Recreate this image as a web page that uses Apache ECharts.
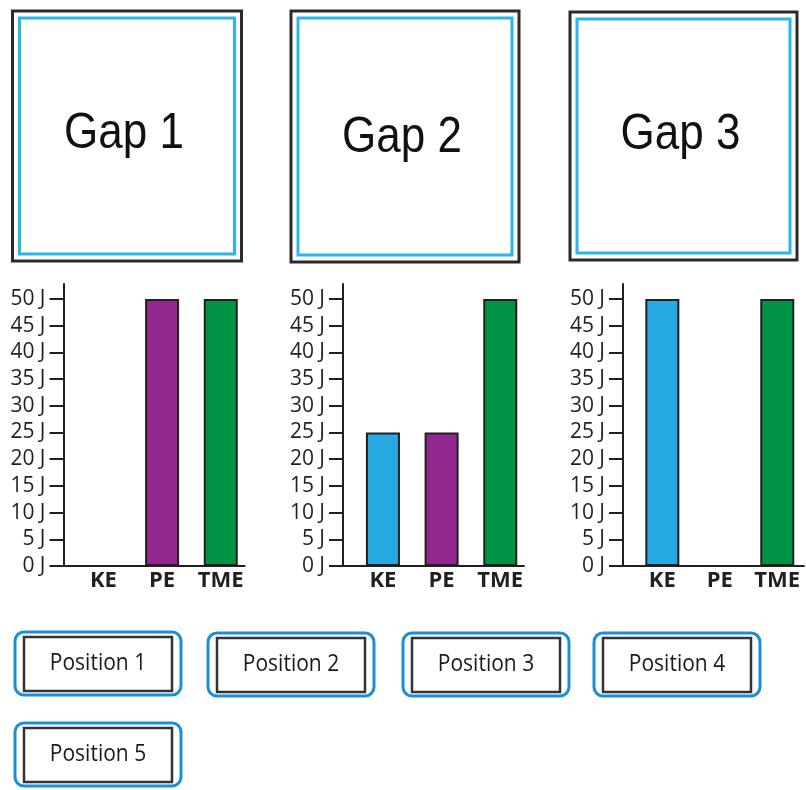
<!DOCTYPE html>
<html>
<head>
<meta charset="utf-8">
<script src="https://cdn.jsdelivr.net/npm/echarts@6/dist/echarts.min.js"></script>
<style>
    html, body { margin: 0; padding: 0; background: #fff; }
    #main { width: 806px; height: 790px; }
</style>
</head>
<body>
<div id="main"></div>
<script>
    // data
    var categories = ['KE', 'PE', 'TME'];
    var gap1Values = [0, 50, 50];
    var gap2Values = [25, 25, 50];
    var gap3Values = [50, 0, 50];
    var yTicks = [0, 5, 10, 15, 20, 25, 30, 35, 40, 45, 50];
    var gapTitles = ['Gap 1', 'Gap 2', 'Gap 3'];
    var positionLabels = ['Position 1', 'Position 2', 'Position 3', 'Position 4', 'Position 5'];
    var barColors = ['#27aae1', '#92278f', '#009444'];

    // layout
    var ink = '#231f20';
    var chartLeft = [63.5, 343, 623];
    var gridTop = 284, gridHeight = 282;
    var yMax = 52.8;
    var gapBoxes = [[12.5, 11, 229, 250], [291, 11, 228, 251], [570, 12, 227, 248]];
    var buttons = [[15, 632], [208, 633], [403, 633], [594, 633], [15, 723]];

    var allValues = [gap1Values, gap2Values, gap3Values];
    var grid = [], xAxis = [], yAxis = [], series = [];

    for (var i = 0; i < 3; i++) {
        var x0 = chartLeft[i];
        // axis frame grid
        grid.push({left: x0, top: gridTop, width: 181, height: gridHeight});
        // bar grid
        grid.push({left: x0 + 10.6, top: gridTop, width: 176, height: gridHeight});

        xAxis.push({
            type: 'value', gridIndex: 2 * i, min: 0, max: 1,
            axisLine: {show: true, lineStyle: {color: ink, width: 2}},
            axisTick: {show: false}, axisLabel: {show: false}, splitLine: {show: false}
        });
        xAxis.push({
            type: 'category', gridIndex: 2 * i + 1, data: categories,
            axisLine: {show: false}, axisTick: {show: false},
            axisLabel: {
                interval: 0, margin: 4, color: ink,
                fontFamily: 'Open Sans', fontWeight: 'bold', fontSize: 22
            }
        });
        yAxis.push({
            type: 'value', gridIndex: 2 * i, min: 0, max: yMax,
            axisLine: {show: true, lineStyle: {color: ink, width: 2}},
            axisTick: {show: true, length: 14, customValues: yTicks, lineStyle: {color: ink, width: 2}},
            axisLabel: {
                customValues: yTicks, formatter: '{value} J', margin: 18, color: ink,
                fontFamily: 'Open Sans', fontWeight: 500, fontSize: 21
            },
            splitLine: {show: false}
        });
        yAxis.push({type: 'value', gridIndex: 2 * i + 1, min: 0, max: yMax, show: false});

        series.push({
            type: 'bar',
            xAxisIndex: 2 * i + 1,
            yAxisIndex: 2 * i + 1,
            barWidth: 34,
            data: allValues[i],
            itemStyle: {
                color: function (p) { return barColors[p.dataIndex]; },
                borderColor: ink,
                borderWidth: 2
            }
        });
    }

    var graphic = [];
    for (var g = 0; g < gapBoxes.length; g++) {
        var b = gapBoxes[g];
        graphic.push({
            type: 'rect', shape: {x: b[0], y: b[1], width: b[2], height: b[3]},
            style: {fill: '#fff', stroke: '#2a2a2a', lineWidth: 3}
        });
        graphic.push({
            type: 'rect', shape: {x: b[0] + 7, y: b[1] + 7, width: b[2] - 14, height: b[3] - 14},
            style: {fill: 'none', stroke: '#2bb6e8', lineWidth: 3}
        });
        graphic.push({
            type: 'text', x: b[0] + b[2] / 2 - 3, y: b[1] + 123 + (g === 1 ? 4 : 0), scaleY: 1.12,
            style: {
                text: gapTitles[g], fill: '#111', font: '44px "Liberation Sans"',
                align: 'center', verticalAlign: 'middle'
            }
        });
    }
    for (var k = 0; k < buttons.length; k++) {
        var p = buttons[k];
        graphic.push({
            type: 'rect', shape: {x: p[0], y: p[1], width: 166, height: 63, r: 9},
            style: {fill: '#fff', stroke: '#1b8fd6', lineWidth: 3}
        });
        graphic.push({
            type: 'rect', shape: {x: p[0] + 9, y: p[1] + 5, width: 148, height: 54},
            style: {fill: '#fff', stroke: '#333', lineWidth: 2.5}
        });
        graphic.push({
            type: 'text', x: p[0] + 83, y: p[1] + 31, scaleY: 1.12,
            style: {
                text: positionLabels[k], fill: '#1a1a1a', font: '500 21px "Open Sans"',
                align: 'center', verticalAlign: 'middle'
            }
        });
    }

    var chart = echarts.init(document.getElementById('main'));
    chart.setOption({
        animation: false,
        grid: grid,
        xAxis: xAxis,
        yAxis: yAxis,
        series: series,
        graphic: graphic
    });
</script>
</body>
</html>
